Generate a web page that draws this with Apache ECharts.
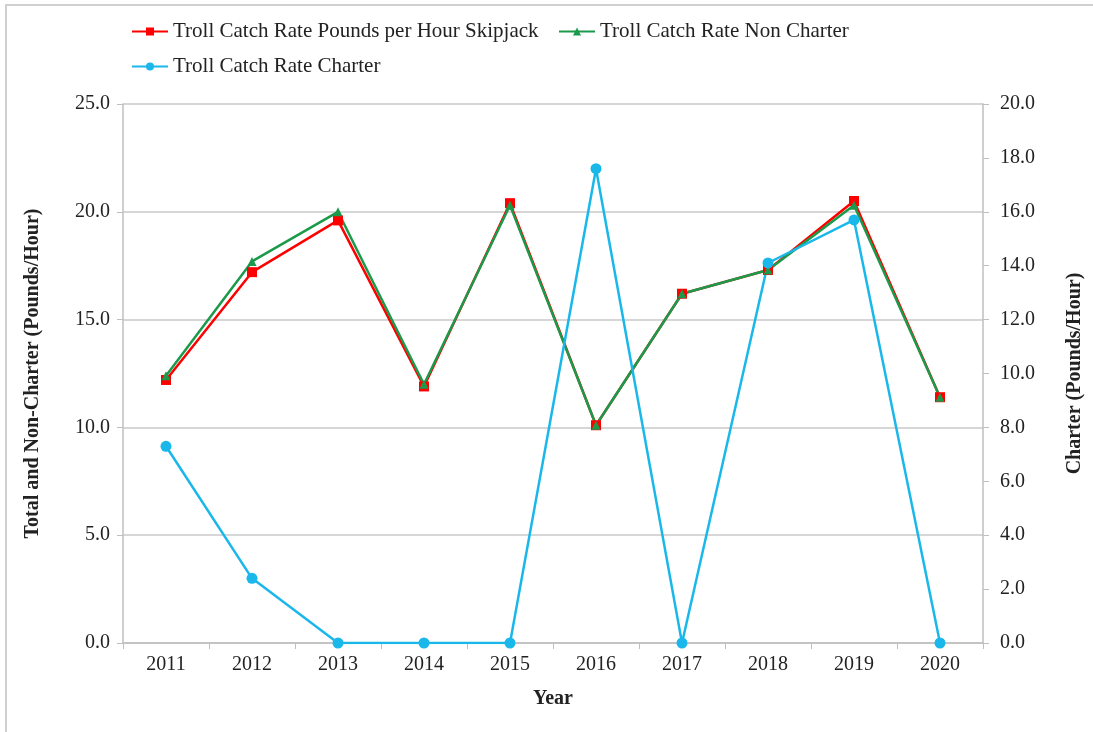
<!DOCTYPE html>
<html>
<head>
<meta charset="utf-8">
<script src="https://cdn.jsdelivr.net/npm/echarts@6/dist/echarts.min.js"></script>
<style>
html,body{margin:0;padding:0;background:#fff;}
#chart{width:1093px;height:732px;}
</style>
</head>
<body>
<div id="chart"></div>
<script>
const years = ['2011','2012','2013','2014','2015','2016','2017','2018','2019','2020'];
const skipjackTotal = [12.2, 17.2, 19.6, 11.9, 20.4, 10.1, 16.2, 17.3, 20.5, 11.4];
const nonCharter = [12.4, 17.7, 20.0, 12.0, 20.3, 10.1, 16.2, 17.3, 20.3, 11.4];
const charter = [7.3, 2.4, 0.0, 0.0, 0.0, 17.6, 0.0, 14.1, 15.7, 0.0];
const seriesNames = ['Troll Catch Rate Pounds per Hour Skipjack', 'Troll Catch Rate Non Charter', 'Troll Catch Rate Charter'];

const FONT = 'Liberation Serif';
const chart = echarts.init(document.getElementById('chart'));
const legendText = {fontFamily: FONT, fontSize: 21, color: '#222'};
const legendBase = {itemWidth: 36, itemHeight: 10, itemGap: 6, textStyle: legendText, padding: 0};
chart.setOption({
  backgroundColor: '#fff',
  animation: false,
  graphic: [{
    type: 'rect', shape: {x: 6, y: 5, width: 1200, height: 800},
    style: {fill: 'none', stroke: '#d0d0d0', lineWidth: 2}, silent: true, z: -1
  }],
  legend: [
    Object.assign({data: [seriesNames[0]], left: 131, top: 21}, legendBase),
    Object.assign({data: [seriesNames[1]], left: 558, top: 21}, legendBase),
    Object.assign({data: [seriesNames[2]], left: 131, top: 56}, legendBase)
  ],
  grid: {left: 123, right: 107, top: 104, bottom: 89},
  xAxis: {
    type: 'category', data: years, boundaryGap: true,
    name: 'Year', nameLocation: 'middle', nameGap: 46,
    nameTextStyle: {fontFamily: FONT, fontSize: 20, fontWeight: 'bold', color: '#222'},
    axisLine: {lineStyle: {color: '#bfbfbf', width: 1.5}},
    axisTick: {show: true, length: 6, lineStyle: {color: '#bfbfbf'}},
    axisLabel: {fontFamily: FONT, fontSize: 20, color: '#222', margin: 12}
  },
  yAxis: [
    {
      type: 'value', min: 0, max: 25, interval: 5, position: 'left',
      name: 'Total and Non-Charter (Pounds/Hour)', nameLocation: 'middle', nameGap: 80,
      nameTextStyle: {fontFamily: FONT, fontSize: 20, fontWeight: 'bold', color: '#222'},
      axisLine: {show: true, lineStyle: {color: '#bfbfbf', width: 1.5}},
      axisTick: {show: true, length: 6, lineStyle: {color: '#bfbfbf'}},
      splitLine: {show: true, lineStyle: {color: '#c8c8c8', width: 1.5}},
      axisLabel: {fontFamily: FONT, fontSize: 20, color: '#222', margin: 13, formatter: v => v.toFixed(1)}
    },
    {
      type: 'value', min: 0, max: 20, interval: 2, position: 'right',
      name: 'Charter (Pounds/Hour)', nameLocation: 'middle', nameGap: 82, nameRotate: 90,
      nameTextStyle: {fontFamily: FONT, fontSize: 20, fontWeight: 'bold', color: '#222'},
      axisLine: {show: true, lineStyle: {color: '#bfbfbf', width: 1.5}},
      axisTick: {show: true, length: 6, lineStyle: {color: '#bfbfbf'}},
      splitLine: {show: false},
      axisLabel: {fontFamily: FONT, fontSize: 20, color: '#222', margin: 17, formatter: v => v.toFixed(1)}
    }
  ],
  series: [
    {
      name: seriesNames[0], type: 'line', data: skipjackTotal, yAxisIndex: 0,
      symbol: 'rect', symbolSize: 10,
      lineStyle: {color: '#ff0000', width: 2.5}, itemStyle: {color: '#ff0000'}
    },
    {
      name: seriesNames[1], type: 'line', data: nonCharter, yAxisIndex: 0,
      symbol: 'triangle', symbolSize: 9,
      lineStyle: {color: '#1a9a4a', width: 2.5}, itemStyle: {color: '#1a9a4a'}
    },
    {
      name: seriesNames[2], type: 'line', data: charter, yAxisIndex: 1,
      symbol: 'circle', symbolSize: 11,
      lineStyle: {color: '#1ab8ea', width: 2.5}, itemStyle: {color: '#1ab8ea'}
    }
  ]
});
</script>
</body>
</html>
